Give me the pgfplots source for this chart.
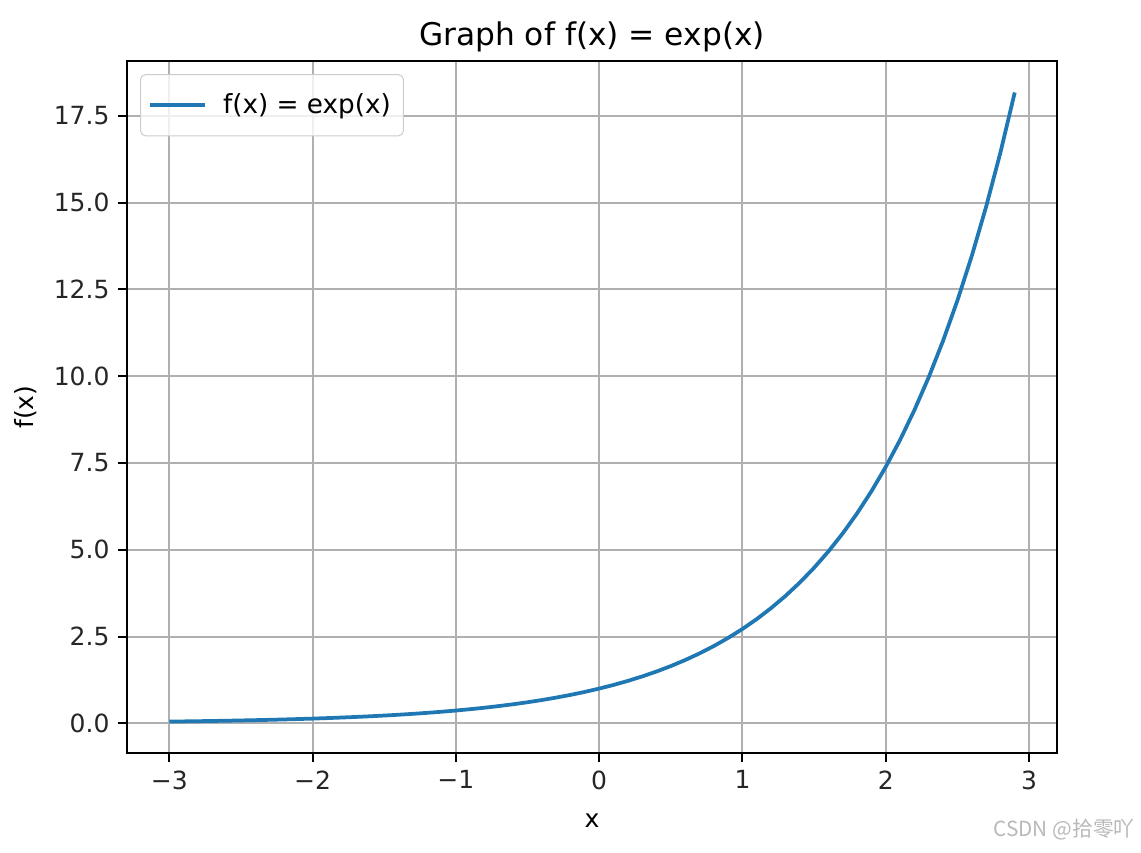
\documentclass[border=0pt]{standalone}
\usepackage{pgfplots}
\pgfplotsset{compat=1.18}
\usepackage{fontspec}
\setmainfont{DejaVu Sans}
\newfontfamily\cjk{Noto Sans CJK SC}
\definecolor{tabblue}{HTML}{1F77B4}
\definecolor{gridgray}{HTML}{B0B0B0}
\pgfplotstableread{
x y
-3.0 0.0498
-2.9 0.0550
-2.8 0.0608
-2.7 0.0672
-2.6 0.0743
-2.5 0.0821
-2.4 0.0907
-2.3 0.1003
-2.2 0.1108
-2.1 0.1225
-2.0 0.1353
-1.9 0.1496
-1.8 0.1653
-1.7 0.1827
-1.6 0.2019
-1.5 0.2231
-1.4 0.2466
-1.3 0.2725
-1.2 0.3012
-1.1 0.3329
-1.0 0.3679
-0.9 0.4066
-0.8 0.4493
-0.7 0.4966
-0.6 0.5488
-0.5 0.6065
-0.4 0.6703
-0.3 0.7408
-0.2 0.8187
-0.1 0.9048
0.0 1.0000
0.1 1.1052
0.2 1.2214
0.3 1.3499
0.4 1.4918
0.5 1.6487
0.6 1.8221
0.7 2.0138
0.8 2.2255
0.9 2.4596
1.0 2.7183
1.1 3.0042
1.2 3.3201
1.3 3.6693
1.4 4.0552
1.5 4.4817
1.6 4.9530
1.7 5.4739
1.8 6.0496
1.9 6.6859
2.0 7.3891
2.1 8.1662
2.2 9.0250
2.3 9.9742
2.4 11.0232
2.5 12.1825
2.6 13.4637
2.7 14.8797
2.8 16.4446
2.9 18.1741
}\expdata
\begin{document}
\begin{tikzpicture}
\path[use as bounding box] (0,0) rectangle (456.4pt,340.8pt);
\begin{axis}[
  at={(50.8pt,39.6pt)}, anchor=south west,
  scale only axis, width=372pt, height=276.8pt,
  xmin=-3.295, xmax=3.195, ymin=-0.856, ymax=19.08,
  xtick={-3,-2,-1,0,1,2,3},
  xticklabels={−3,−2,−1,0,1,2,3},
  ytick={0,2.5,5,7.5,10,12.5,15,17.5},
  yticklabels={0.0,2.5,5.0,7.5,10.0,12.5,15.0,17.5},
  tick label style={font=\fontsize{10}{12}\selectfont, black!85},
  tick align=outside, tick pos=left,
  major tick length=3.5pt,
  every tick/.style={black, line width=0.8pt},
  axis line style={line width=0.8pt, black},
  grid=major,
  major grid style={gridgray, line width=0.8pt},
  title={Graph of f(x) = exp(x)},
  title style={font=\fontsize{12.5}{14}\selectfont, yshift=-6pt},
  xlabel={x}, ylabel={f(x)},
  xlabel style={yshift=-3pt},
  label style={font=\fontsize{10}{12}\selectfont},
  legend style={font=\fontsize{10.5}{12}\selectfont, draw=black!20, rounded corners=2pt, fill=white, fill opacity=0.8, text opacity=1, at={(0.014,0.981)}, anchor=north west, inner xsep=3pt, inner ysep=5.5pt},
  legend cell align=left,
  legend image code/.code={\draw[#1, line width=1.5pt] (0pt,0pt) -- (22pt,0pt); \path (26.5pt,0pt);},
]
\addplot[tabblue, line width=1.5pt] table[x=x,y=y] {\expdata};
\addlegendentry{f(x) = exp(x)}
\end{axis}
\node[anchor=east, inner sep=0pt, text=black!28, font=\cjk\fontsize{8.3}{9}\selectfont] at (454pt,8.8pt) {CSDN @拾零吖};
\end{tikzpicture}
\end{document}
